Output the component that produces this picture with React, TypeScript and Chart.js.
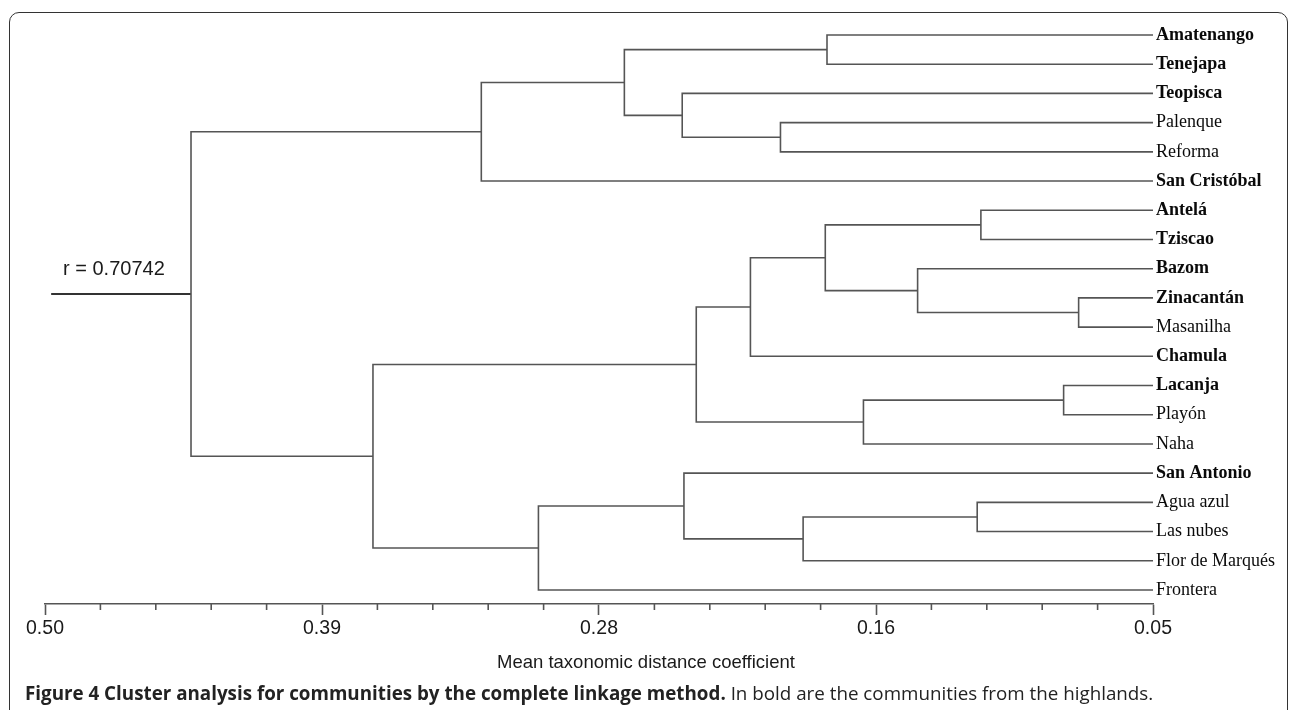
import React, { useEffect, useRef } from 'react';
import { Chart, registerables } from 'chart.js';

Chart.register(...registerables);

// ---- data ----
const leafLabels = [
  'Amatenango', 'Tenejapa', 'Teopisca', 'Palenque', 'Reforma', 'San Cristóbal',
  'Antelá', 'Tziscao', 'Bazom', 'Zinacantán', 'Masanilha', 'Chamula',
  'Lacanja', 'Playón', 'Naha', 'San Antonio', 'Agua azul', 'Las nubes',
  'Flor de Marqués', 'Frontera',
];
const highland = [
  true, true, true, false, false, true,
  true, true, true, true, false, true,
  true, false, false, true, false, false,
  false, false,
];
// nodes 0..19 are leaves, node 20+k is the cluster created by merge k
const mergeLeft = [0, 3, 2, 20, 23, 6, 9, 8, 25, 28, 12, 30, 29, 16, 33, 15, 35, 32, 24];
const mergeRight = [1, 4, 21, 22, 5, 7, 10, 26, 27, 11, 13, 14, 31, 17, 18, 34, 19, 36, 37];
const mergeHeight = [
  0.1824, 0.2013, 0.2412, 0.2647, 0.3228, 0.1199, 0.0802, 0.1456, 0.1831, 0.2135,
  0.0863, 0.1676, 0.2355, 0.1214, 0.1921, 0.2405, 0.2996, 0.3668, 0.4407,
];
const leafHeight = 0.05;
const rootStubEnd = 0.4975;
const xTickValues = [0.5, 0.3875, 0.275, 0.1625, 0.05];
const xTickLabels = ['0.50', '0.39', '0.28', '0.16', '0.05'];
const minorPerMajor = 5;
const correlationText = 'r = 0.70742';
const axisTitle = 'Mean taxonomic distance coefficient';
const captionBold = 'Figure 4 Cluster analysis for communities by the complete linkage method.';
const captionRest = ' In bold are the communities from the highlands.';

const lineColor = '#555555';
const lineWidth = 1.6;

function buildDatasets() {
  const nodeY: number[] = leafLabels.map((_, i) => i);
  const nodeH: number[] = leafLabels.map(() => leafHeight);
  const sets: any[] = [];
  mergeLeft.forEach((a, k) => {
    const b = mergeRight[k];
    const h = mergeHeight[k];
    sets.push({
      data: [
        { x: nodeH[a], y: nodeY[a] },
        { x: h, y: nodeY[a] },
        { x: h, y: nodeY[b] },
        { x: nodeH[b], y: nodeY[b] },
      ],
      borderColor: lineColor,
      borderWidth: lineWidth,
      pointRadius: 0,
      tension: 0,
      fill: false,
    });
    nodeY.push((nodeY[a] + nodeY[b]) / 2);
    nodeH.push(h);
  });
  const root = nodeY.length - 1;
  sets.push({
    data: [
      { x: nodeH[root], y: nodeY[root] },
      { x: rootStubEnd, y: nodeY[root] },
    ],
    borderColor: '#333333',
    borderWidth: 2,
    pointRadius: 0,
    fill: false,
  });
  return sets;
}

const minorTicksPlugin = {
  id: 'minorTicks',
  afterDraw(chart: any) {
    const s = chart.scales.x;
    const ctx = chart.ctx;
    const y0 = chart.chartArea.bottom;
    ctx.save();
    ctx.strokeStyle = lineColor;
    ctx.lineWidth = lineWidth;
    for (let i = 0; i < xTickValues.length - 1; i++) {
      const a = xTickValues[i];
      const b = xTickValues[i + 1];
      for (let j = 1; j < minorPerMajor; j++) {
        const px = s.getPixelForValue(a + ((b - a) * j) / minorPerMajor);
        ctx.beginPath();
        ctx.moveTo(px, y0);
        ctx.lineTo(px, y0 + 6);
        ctx.stroke();
      }
    }
    ctx.restore();
  },
};

export default function App() {
  const ref = useRef<HTMLCanvasElement | null>(null);

  useEffect(() => {
    if (!ref.current) return;
    const chart = new Chart(ref.current, {
      type: 'line',
      data: { datasets: buildDatasets() },
      plugins: [minorTicksPlugin],
      options: {
        animation: false,
        responsive: false,
        events: [],
        layout: { padding: { left: 45, top: 20.4, right: 0, bottom: 0 } },
        plugins: { legend: { display: false }, tooltip: { enabled: false } },
        scales: {
          x: {
            type: 'linear',
            min: 0.05,
            max: 0.5,
            reverse: true,
            bounds: 'data',
            afterBuildTicks: (s: any) => {
              s.ticks = xTickValues.map((v) => ({ value: v }));
            },
            afterFit: (s: any) => {
              s.height = 106;
            },
            ticks: {
              autoSkip: false,
              maxRotation: 0,
              padding: 2,
              color: '#1a1a1a',
              font: { family: '"Liberation Sans", Arial, sans-serif', size: 19.5 },
              callback: (v: any) => {
                const i = xTickValues.indexOf(v);
                return i >= 0 ? xTickLabels[i] : '';
              },
            },
            grid: {
              display: true,
              drawOnChartArea: false,
              drawTicks: true,
              tickLength: 11,
              tickColor: lineColor,
              tickWidth: lineWidth,
            },
            border: { display: true, color: lineColor, width: lineWidth },
          },
          y: {
            type: 'linear',
            position: 'right',
            reverse: true,
            min: -0.5,
            max: 19.48,
            bounds: 'data',
            afterBuildTicks: (s: any) => {
              s.ticks = leafLabels.map((_, i) => ({ value: i }));
            },
            afterFit: (s: any) => {
              s.width = 137;
            },
            ticks: {
              autoSkip: false,
              padding: 3,
              color: '#0a0a0a',
              font: (ctx: any) => ({
                family: '"Liberation Serif", "Times New Roman", serif',
                size: 18,
                weight: highland[ctx.index] ? 'bold' : 'normal',
              }),
              callback: (v: any) => leafLabels[v] ?? '',
            },
            grid: { display: false, drawTicks: false },
            border: { display: false },
          },
        },
      } as any,
    });
    return () => chart.destroy();
  }, []);

  return (
    <div
      style={{
        position: 'absolute',
        left: 0,
        top: 0,
        width: 1290,
        height: 710,
        overflow: 'hidden',
        background: '#ffffff',
      }}
    >
      <div
        style={{
          position: 'absolute',
          left: 9,
          top: 12,
          width: 1279,
          height: 730,
          border: '1.5px solid #333',
          borderRadius: 10,
          boxSizing: 'border-box',
        }}
      />
      <canvas
        ref={ref}
        width={1290}
        height={710}
        style={{ position: 'absolute', left: 0, top: 0, width: 1290, height: 710 }}
      />
      <div
        style={{
          position: 'absolute',
          left: 63,
          top: 258,
          fontFamily: '"Liberation Sans", Arial, sans-serif',
          fontSize: 20,
          lineHeight: '20px',
          color: '#1a1a1a',
          whiteSpace: 'nowrap',
        }}
      >
        {correlationText}
      </div>
      <div
        style={{
          position: 'absolute',
          left: 497,
          top: 653,
          fontFamily: '"Liberation Sans", Arial, sans-serif',
          fontSize: 18.5,
          lineHeight: '18.5px',
          color: '#1a1a1a',
          whiteSpace: 'nowrap',
        }}
      >
        {axisTitle}
      </div>
      <div
        style={{
          position: 'absolute',
          left: 25,
          top: 684,
          fontFamily: '"Open Sans", sans-serif',
          fontSize: 18.8,
          lineHeight: '18.8px',
          color: '#222',
          whiteSpace: 'nowrap',
        }}
      >
        <span style={{ fontWeight: 700 }}>{captionBold}</span>
        <span>{captionRest}</span>
      </div>
    </div>
  );
}
